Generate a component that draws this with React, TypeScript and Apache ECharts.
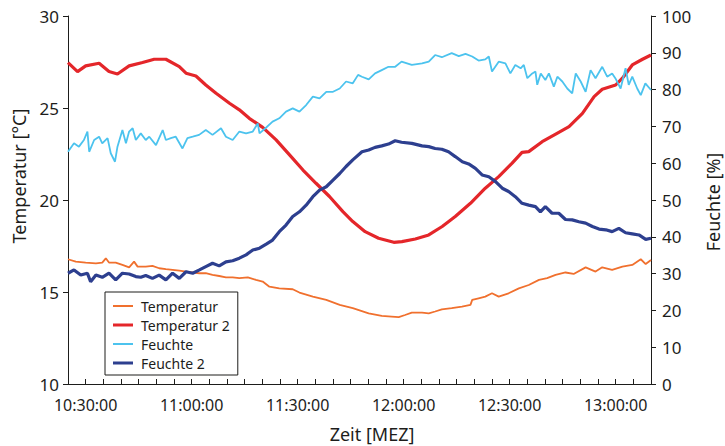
import React, { useEffect, useRef } from "react";
import * as echarts from "echarts";

// x values: minutes after 10:00
const tempTimes = [25.0, 27.2, 30.0, 32.9, 34.7, 35.7, 36.6, 38.5, 40.4, 42.3, 43.7, 44.7, 47.0, 48.9, 50.8, 52.7, 54.6, 56.5, 58.4, 60.3, 62.2, 64.0, 65.9, 67.8, 69.7, 71.6, 73.5, 75.9, 78.2, 80.1, 82.0, 84.8, 88.6, 90.5, 94.3, 98.1, 101.9, 105.6, 110.1, 113.8, 116.6, 118.6, 120.4, 122.3, 125.2, 127.1, 128.9, 130.8, 133.6, 136.5, 138.9, 139.4, 141.2, 143.1, 145.0, 146.9, 149.7, 152.6, 155.4, 158.3, 160.6, 163.0, 165.8, 168.1, 171.5, 174.3, 176.2, 179.0, 181.9, 184.7, 187.1, 188.5, 190.0];
const tempValues = [16.78, 16.65, 16.60, 16.56, 16.60, 16.83, 16.60, 16.60, 16.47, 16.34, 16.65, 16.38, 16.38, 16.42, 16.29, 16.24, 16.20, 16.16, 16.11, 16.06, 16.02, 16.02, 15.93, 15.87, 15.80, 15.80, 15.75, 15.80, 15.66, 15.57, 15.29, 15.20, 15.15, 14.97, 14.75, 14.57, 14.30, 14.12, 13.84, 13.70, 13.66, 13.63, 13.75, 13.88, 13.88, 13.84, 13.94, 14.06, 14.12, 14.21, 14.30, 14.57, 14.66, 14.75, 14.93, 14.75, 14.93, 15.20, 15.38, 15.66, 15.75, 15.93, 16.06, 15.98, 16.34, 16.11, 16.34, 16.20, 16.38, 16.47, 16.78, 16.52, 16.74];

const temp2Times = [25.0, 27.7, 30.0, 33.8, 36.6, 39.0, 42.3, 46.1, 49.4, 52.7, 56.5, 58.4, 61.2, 64.0, 66.9, 70.7, 73.5, 76.3, 80.1, 83.9, 87.7, 91.5, 95.2, 99.0, 102.8, 105.6, 109.1, 112.9, 117.2, 119.5, 123.3, 127.1, 130.9, 134.6, 138.9, 143.1, 146.9, 150.7, 153.5, 155.4, 159.2, 162.9, 166.8, 170.6, 173.9, 176.2, 180.0, 181.9, 184.7, 187.6, 190.0];
const temp2Values = [27.47, 26.98, 27.29, 27.43, 26.98, 26.85, 27.29, 27.47, 27.65, 27.65, 27.25, 26.89, 26.74, 26.25, 25.80, 25.26, 24.90, 24.44, 23.95, 23.27, 22.45, 21.63, 20.91, 20.19, 19.37, 18.83, 18.28, 17.92, 17.70, 17.74, 17.88, 18.10, 18.56, 19.10, 19.82, 20.64, 21.27, 22.00, 22.59, 22.63, 23.17, 23.57, 23.99, 24.71, 25.62, 26.02, 26.25, 26.62, 27.34, 27.65, 27.88];

const humTimes = [25.0, 26.7, 28.1, 29.5, 30.5, 31.0, 32.4, 33.8, 34.7, 36.2, 37.1, 38.3, 39.0, 40.4, 41.4, 42.3, 43.3, 44.2, 45.6, 47.0, 48.0, 49.9, 51.8, 52.7, 54.1, 55.5, 57.4, 58.8, 60.3, 62.1, 64.0, 65.9, 68.3, 69.7, 71.6, 73.5, 75.4, 77.3, 78.7, 79.2, 81.1, 82.9, 84.8, 86.7, 88.6, 90.5, 92.4, 94.3, 96.2, 98.1, 100.0, 101.9, 103.7, 105.6, 107.1, 108.2, 110.1, 111.9, 113.8, 115.7, 117.6, 119.4, 122.3, 125.2, 127.1, 128.9, 130.8, 133.6, 135.6, 137.5, 139.4, 141.2, 143.1, 144.1, 145.0, 146.9, 148.8, 150.2, 151.6, 153.1, 154.0, 155.0, 156.4, 157.3, 157.8, 158.8, 160.1, 161.1, 162.5, 163.5, 164.9, 166.3, 167.7, 168.7, 170.1, 171.5, 172.9, 174.3, 176.2, 177.6, 179.0, 179.9, 181.4, 182.8, 183.7, 184.7, 186.1, 187.1, 188.4, 190.0];
const humValues = [63.1, 65.4, 64.5, 66.3, 68.6, 63.1, 66.3, 67.2, 65.4, 66.8, 62.7, 60.4, 64.5, 69.0, 65.4, 68.6, 69.5, 66.3, 68.1, 66.3, 67.2, 64.9, 69.0, 66.3, 66.8, 67.2, 64.0, 66.8, 67.2, 67.7, 69.0, 67.7, 69.5, 67.2, 66.3, 68.6, 68.1, 68.6, 70.8, 68.1, 69.7, 71.3, 72.2, 74.0, 74.9, 74.0, 75.8, 78.1, 77.6, 79.4, 79.4, 80.3, 82.2, 81.7, 84.0, 83.5, 82.8, 84.4, 85.3, 86.2, 86.2, 87.6, 86.7, 87.1, 87.6, 89.4, 88.8, 89.9, 89.1, 89.7, 89.0, 87.9, 88.2, 89.0, 84.9, 87.6, 87.1, 84.4, 86.7, 85.8, 86.7, 83.1, 84.4, 84.9, 81.3, 84.4, 82.6, 84.4, 80.8, 83.5, 82.2, 80.3, 79.0, 84.4, 82.2, 79.4, 85.3, 83.1, 86.2, 83.5, 84.4, 83.1, 80.3, 85.8, 81.3, 83.5, 80.3, 78.5, 81.7, 79.9];

const hum2Times = [25.0, 26.7, 28.6, 30.5, 31.4, 32.9, 34.7, 36.6, 38.5, 40.4, 42.3, 44.2, 45.6, 47.0, 48.9, 50.8, 52.7, 54.6, 56.5, 58.4, 60.3, 62.2, 64.0, 65.9, 67.8, 69.7, 71.6, 73.5, 75.4, 77.3, 79.2, 81.1, 82.9, 84.8, 86.7, 88.6, 90.5, 92.4, 94.3, 96.2, 98.1, 100.0, 101.9, 103.7, 105.6, 108.2, 110.1, 111.9, 113.8, 115.7, 117.6, 119.4, 122.3, 125.2, 127.1, 128.9, 130.8, 132.7, 134.6, 136.6, 138.4, 140.3, 142.2, 144.1, 146.0, 147.9, 149.7, 151.6, 153.5, 155.4, 157.3, 158.7, 160.1, 162.0, 163.9, 165.8, 167.7, 169.6, 171.5, 173.4, 175.3, 177.2, 179.0, 180.9, 182.8, 184.7, 186.6, 188.5, 190.0];
const hum2Values = [30.1, 31.0, 29.6, 30.1, 27.8, 29.6, 29.0, 30.1, 28.3, 30.1, 29.9, 29.2, 29.0, 29.5, 28.7, 29.6, 28.3, 30.1, 28.7, 30.5, 30.1, 31.0, 31.9, 32.8, 32.1, 33.2, 33.5, 34.2, 35.1, 36.4, 36.9, 38.0, 39.1, 41.4, 43.2, 45.5, 46.8, 48.6, 50.9, 52.7, 53.6, 55.4, 57.2, 59.1, 60.9, 63.1, 63.6, 64.3, 64.7, 65.2, 66.1, 65.7, 65.4, 64.7, 64.5, 64.0, 63.8, 63.1, 61.8, 60.4, 59.8, 58.6, 56.8, 56.3, 55.0, 53.2, 52.3, 50.9, 49.1, 48.6, 48.2, 46.8, 48.2, 46.4, 46.4, 44.7, 44.6, 44.1, 43.7, 42.8, 42.1, 41.9, 41.4, 42.3, 41.1, 40.8, 40.5, 39.3, 39.6];

const seriesNames = ["Temperatur", "Temperatur 2", "Feuchte", "Feuchte 2"];
const xTitle = "Zeit [MEZ]";
const yLeftTitle = "Temperatur [°C]";
const yRightTitle = "Feuchte [%]";

const FONT = '"Noto Sans", "DejaVu Sans", sans-serif';
const INK = "#1d1d1b";
const COLORS = ["#f0702e", "#e4262a", "#4cc3ee", "#2d3f8f"];
const WIDTHS = [1.8, 3.2, 1.8, 3.2];
const THIN_ICON = "path://M0,0H20V2H0Z";
const THICK_ICON = "path://M0,0H20V3H0Z";

const zip = (xs: number[], ys: number[]) => xs.map((x, i) => [x, ys[i]]);

function fmtTime(v: number): string {
  const m = Math.round(v);
  if ((m - 30) % 30 !== 0) return "";
  const h = 10 + Math.floor(m / 60);
  const mm = m % 60;
  return `${h}:${mm < 10 ? "0" + mm : mm}:00`;
}

export default function App() {
  const ref = useRef<HTMLDivElement>(null);
  useEffect(() => {
    if (!ref.current) return;
    const chart = echarts.init(ref.current, null, { renderer: "svg" });
    const axisLine = { show: true, onZero: false, lineStyle: { color: INK, width: 1 } };
    const seriesData = [
      zip(tempTimes, tempValues),
      zip(temp2Times, temp2Values),
      zip(humTimes, humValues),
      zip(hum2Times, hum2Values),
    ];
    const yIdx = [0, 0, 1, 1];
    chart.setOption({
      animation: false,
      backgroundColor: "#ffffff",
      grid: { left: 68, right: 74, top: 16, bottom: 62 },
      xAxis: {
        type: "value",
        min: 25,
        max: 190,
        interval: 5,
        axisLine,
        axisTick: { show: true, inside: true, length: 5, lineStyle: { color: INK } },
        splitLine: { show: false },
        axisLabel: {
          formatter: fmtTime,
          margin: 13,
          fontSize: 16,
          fontFamily: FONT,
          color: INK,
          showMinLabel: true,
          showMaxLabel: true,
        },
      },
      yAxis: [
        {
          type: "value",
          position: "left",
          min: 10,
          max: 30,
          interval: 5,
          axisLine,
          axisTick: { show: true, inside: false, length: 5, lineStyle: { color: INK } },
          splitLine: { show: false },
          axisLabel: { margin: 9, fontSize: 17, fontFamily: FONT, color: INK },
        },
        {
          type: "value",
          position: "right",
          min: 0,
          max: 100,
          interval: 10,
          axisLine,
          axisTick: { show: true, inside: false, length: 5, lineStyle: { color: INK } },
          splitLine: { show: false },
          axisLabel: { margin: 11, fontSize: 17, fontFamily: FONT, color: INK },
        },
      ],
      legend: {
        orient: "vertical",
        left: 105,
        top: 292,
        padding: [7, 8, 5, 8],
        itemWidth: 20,
        itemHeight: 14,
        itemGap: 5,
        borderColor: INK,
        borderWidth: 1,
        backgroundColor: "#ffffff",
        selectedMode: false,
        textStyle: { fontSize: 14, fontFamily: FONT, color: INK, padding: [0, 0, 0, 3] },
        data: seriesNames.map((name, i) => ({
          name,
          icon: WIDTHS[i] > 2 ? THICK_ICON : THIN_ICON,
          itemStyle: { color: COLORS[i], borderWidth: 0 },
        })),
      },
      graphic: [
        {
          type: "text",
          x: 19,
          y: 176,
          rotation: Math.PI / 2,
          style: { text: yLeftTitle, font: `18px ${FONT}`, fill: INK, align: "center", verticalAlign: "middle", textAlign: "center", textVerticalAlign: "middle" },
        },
        {
          type: "text",
          x: 713,
          y: 202,
          rotation: Math.PI / 2,
          style: { text: yRightTitle, font: `18px ${FONT}`, fill: INK, align: "center", verticalAlign: "middle", textAlign: "center", textVerticalAlign: "middle" },
        },
        {
          type: "text",
          x: 372,
          y: 434,
          style: { text: xTitle, font: `18px ${FONT}`, fill: INK, align: "center", verticalAlign: "middle", textAlign: "center", textVerticalAlign: "middle" },
        },
      ],
      series: seriesNames.map((name, i) => ({
        name,
        type: "line",
        yAxisIndex: yIdx[i],
        symbol: "none",
        silent: true,
        color: COLORS[i],
        lineStyle: { width: WIDTHS[i], color: COLORS[i] },
        data: seriesData[i],
      })),
    });
    return () => chart.dispose();
  }, []);
  return (
    <div
      ref={ref}
      style={{ position: "fixed", left: 0, top: 0, width: 725, height: 446, background: "#fff" }}
    />
  );
}
